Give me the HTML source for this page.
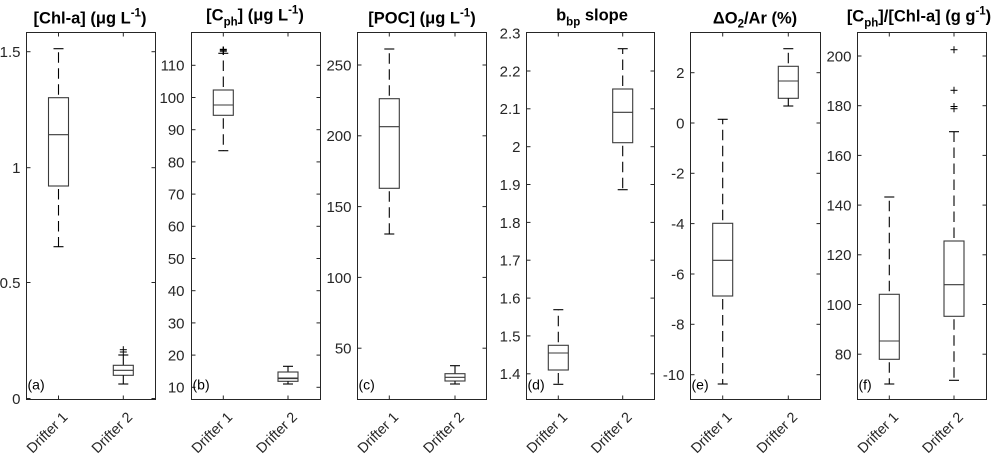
<!DOCTYPE html>
<html><head><meta charset="utf-8"><style>
html,body{margin:0;padding:0;background:#fff;}
svg{display:block;}
text{font-family:"Liberation Sans",Arial,sans-serif;fill:#262626;}
.t{font-size:15px;text-anchor:end;}
.ti{font-size:16.5px;font-weight:bold;text-anchor:middle;fill:#000;}
.xl{font-size:14.3px;text-anchor:end;}
.pl{font-size:14px;fill:#000;}
.ax{fill:none;stroke:#262626;stroke-width:1;}
.tk{stroke:#262626;stroke-width:1;}
.bx{fill:none;stroke:#3a3a3a;stroke-width:1.1;}
.wh{stroke:#000;stroke-width:1.1;stroke-dasharray:10.5 5.5;}
.cp{stroke:#000;stroke-width:1.1;}
.ol{stroke:#000;stroke-width:1;}
</style></head><body>
<svg width="1000" height="455" viewBox="0 0 1000 455" xmlns="http://www.w3.org/2000/svg">
<rect width="1000" height="455" fill="#fff"/>

<!-- ===== Panel a ===== -->
<rect class="ax" x="26.5" y="32.5" width="129" height="367"/>
<g class="tk">
<line x1="26.5" y1="51.7" x2="30.5" y2="51.7"/><line x1="155.5" y1="51.7" x2="151.5" y2="51.7"/>
<line x1="26.5" y1="167.7" x2="30.5" y2="167.7"/><line x1="155.5" y1="167.7" x2="151.5" y2="167.7"/>
<line x1="26.5" y1="282.5" x2="30.5" y2="282.5"/><line x1="155.5" y1="282.5" x2="151.5" y2="282.5"/>
<line x1="26.5" y1="398.5" x2="30.5" y2="398.5"/><line x1="155.5" y1="398.5" x2="151.5" y2="398.5"/>
<line x1="58.5" y1="399.5" x2="58.5" y2="395.5"/><line x1="58.5" y1="32.5" x2="58.5" y2="36.5"/>
<line x1="123.3" y1="399.5" x2="123.3" y2="395.5"/><line x1="123.3" y1="32.5" x2="123.3" y2="36.5"/>
</g>
<text class="t" x="20.5" y="57.1">1.5</text>
<text class="t" x="20.5" y="173.1">1</text>
<text class="t" x="20.5" y="287.9">0.5</text>
<text class="t" x="20.5" y="403.9">0</text>
<text class="ti" x="90" y="23.5">[Chl-a] (μg L<tspan font-size="11.5" dy="-7">-1</tspan><tspan dy="7">)</tspan></text>
<text class="pl" x="27.5" y="389.5">(a)</text>
<text class="xl" transform="translate(68.5,418) rotate(-45)">Drifter 1</text>
<text class="xl" transform="translate(133.3,418) rotate(-45)">Drifter 2</text>
<!-- a1 -->
<line class="wh" x1="58.5" y1="97.7" x2="58.5" y2="48.7" stroke-dashoffset="13"/>
<line class="cp" x1="53.5" y1="48.7" x2="63.5" y2="48.7"/>
<rect class="bx" x="48.5" y="97.7" width="20" height="88.3"/>
<line class="bx" x1="48.5" y1="134.7" x2="68.5" y2="134.7"/>
<line class="wh" x1="58.5" y1="186" x2="58.5" y2="246.7" stroke-dashoffset="13"/>
<line class="cp" x1="53.5" y1="246.7" x2="63.5" y2="246.7"/>
<!-- a2 -->
<line class="wh" x1="123.3" y1="365.3" x2="123.3" y2="355"/>
<line class="cp" x1="118.3" y1="355" x2="128.3" y2="355"/>
<rect class="bx" x="113.3" y="365.3" width="20" height="10"/>
<line class="bx" x1="113.3" y1="370.3" x2="133.3" y2="370.3"/>
<line class="wh" x1="123.3" y1="375.3" x2="123.3" y2="384"/>
<line class="cp" x1="118.3" y1="384" x2="128.3" y2="384"/>
<g class="ol"><line x1="119.8" y1="349.7" x2="126.8" y2="349.7"/><line x1="123.3" y1="346.2" x2="123.3" y2="355.5"/><line x1="119.8" y1="352" x2="126.8" y2="352"/></g>

<!-- ===== Panel b ===== -->
<rect class="ax" x="191.5" y="32.5" width="129" height="367"/>
<g class="tk">
<line x1="191.5" y1="65.3" x2="195.5" y2="65.3"/><line x1="320.5" y1="65.3" x2="316.5" y2="65.3"/>
<line x1="191.5" y1="97.5" x2="195.5" y2="97.5"/><line x1="320.5" y1="97.5" x2="316.5" y2="97.5"/>
<line x1="191.5" y1="129.7" x2="195.5" y2="129.7"/><line x1="320.5" y1="129.7" x2="316.5" y2="129.7"/>
<line x1="191.5" y1="161.9" x2="195.5" y2="161.9"/><line x1="320.5" y1="161.9" x2="316.5" y2="161.9"/>
<line x1="191.5" y1="194.1" x2="195.5" y2="194.1"/><line x1="320.5" y1="194.1" x2="316.5" y2="194.1"/>
<line x1="191.5" y1="226.3" x2="195.5" y2="226.3"/><line x1="320.5" y1="226.3" x2="316.5" y2="226.3"/>
<line x1="191.5" y1="258.5" x2="195.5" y2="258.5"/><line x1="320.5" y1="258.5" x2="316.5" y2="258.5"/>
<line x1="191.5" y1="290.7" x2="195.5" y2="290.7"/><line x1="320.5" y1="290.7" x2="316.5" y2="290.7"/>
<line x1="191.5" y1="322.9" x2="195.5" y2="322.9"/><line x1="320.5" y1="322.9" x2="316.5" y2="322.9"/>
<line x1="191.5" y1="355.1" x2="195.5" y2="355.1"/><line x1="320.5" y1="355.1" x2="316.5" y2="355.1"/>
<line x1="191.5" y1="387.3" x2="195.5" y2="387.3"/><line x1="320.5" y1="387.3" x2="316.5" y2="387.3"/>
<line x1="223.3" y1="399.5" x2="223.3" y2="395.5"/><line x1="223.3" y1="32.5" x2="223.3" y2="36.5"/>
<line x1="288" y1="399.5" x2="288" y2="395.5"/><line x1="288" y1="32.5" x2="288" y2="36.5"/>
</g>
<text class="t" x="184.5" y="70.7">110</text>
<text class="t" x="184.5" y="102.9">100</text>
<text class="t" x="184.5" y="135.1">90</text>
<text class="t" x="184.5" y="167.3">80</text>
<text class="t" x="184.5" y="199.5">70</text>
<text class="t" x="184.5" y="231.7">60</text>
<text class="t" x="184.5" y="263.9">50</text>
<text class="t" x="184.5" y="296.1">40</text>
<text class="t" x="184.5" y="328.3">30</text>
<text class="t" x="184.5" y="360.5">20</text>
<text class="t" x="184.5" y="392.7">10</text>
<text class="ti" x="255" y="20.5">[C<tspan font-size="11.5" dy="5">ph</tspan><tspan dy="-5">] (μg L</tspan><tspan font-size="11.5" dy="-7">-1</tspan><tspan dy="7">)</tspan></text>
<text class="pl" x="192.5" y="389.5">(b)</text>
<text class="xl" transform="translate(233.3,418) rotate(-45)">Drifter 1</text>
<text class="xl" transform="translate(298,418) rotate(-45)">Drifter 2</text>
<!-- b1 -->
<line class="wh" x1="223.3" y1="90" x2="223.3" y2="53.3" stroke-dashoffset="13"/>
<line class="cp" x1="218.3" y1="53.3" x2="228.3" y2="53.3"/>
<rect class="bx" x="213.3" y="90" width="20" height="25.3"/>
<line class="bx" x1="213.3" y1="105" x2="233.3" y2="105"/>
<line class="wh" x1="223.3" y1="115.3" x2="223.3" y2="150.7" stroke-dashoffset="13"/>
<line class="cp" x1="218.3" y1="150.7" x2="228.3" y2="150.7"/>
<g class="ol" style="stroke-width:1.4"><line x1="219.8" y1="49.5" x2="226.8" y2="49.5"/><line x1="219.8" y1="51" x2="226.8" y2="51"/><line x1="223.3" y1="46.5" x2="223.3" y2="54.5"/></g>
<!-- b2 -->
<line class="wh" x1="288" y1="372" x2="288" y2="366.3"/>
<line class="cp" x1="283" y1="366.3" x2="293" y2="366.3"/>
<rect class="bx" x="278" y="372" width="20" height="9.3"/>
<line class="bx" x1="278" y1="378.3" x2="298" y2="378.3" style="stroke-width:1.6"/>
<line class="wh" x1="288" y1="381.3" x2="288" y2="384"/>
<line class="cp" x1="283" y1="384" x2="293" y2="384"/>

<!-- ===== Panel c ===== -->
<rect class="ax" x="357.5" y="32.5" width="129" height="367"/>
<g class="tk">
<line x1="357.5" y1="65" x2="361.5" y2="65"/><line x1="486.5" y1="65" x2="482.5" y2="65"/>
<line x1="357.5" y1="135.8" x2="361.5" y2="135.8"/><line x1="486.5" y1="135.8" x2="482.5" y2="135.8"/>
<line x1="357.5" y1="206.6" x2="361.5" y2="206.6"/><line x1="486.5" y1="206.6" x2="482.5" y2="206.6"/>
<line x1="357.5" y1="277.4" x2="361.5" y2="277.4"/><line x1="486.5" y1="277.4" x2="482.5" y2="277.4"/>
<line x1="357.5" y1="348.2" x2="361.5" y2="348.2"/><line x1="486.5" y1="348.2" x2="482.5" y2="348.2"/>
<line x1="389.3" y1="399.5" x2="389.3" y2="395.5"/><line x1="389.3" y1="32.5" x2="389.3" y2="36.5"/>
<line x1="455" y1="399.5" x2="455" y2="395.5"/><line x1="455" y1="32.5" x2="455" y2="36.5"/>
</g>
<text class="t" x="351.5" y="70.4">250</text>
<text class="t" x="351.5" y="141.2">200</text>
<text class="t" x="351.5" y="212">150</text>
<text class="t" x="351.5" y="282.8">100</text>
<text class="t" x="351.5" y="353.6">50</text>
<text class="ti" x="422" y="23.5">[POC] (μg L<tspan font-size="11.5" dy="-7">-1</tspan><tspan dy="7">)</tspan></text>
<text class="pl" x="358.5" y="389.5">(c)</text>
<text class="xl" transform="translate(399.3,418) rotate(-45)">Drifter 1</text>
<text class="xl" transform="translate(465,418) rotate(-45)">Drifter 2</text>
<!-- c1 -->
<line class="wh" x1="389.3" y1="98.7" x2="389.3" y2="49" stroke-dashoffset="13"/>
<line class="cp" x1="384.3" y1="49" x2="394.3" y2="49"/>
<rect class="bx" x="379.3" y="98.7" width="20" height="89.6"/>
<line class="bx" x1="379.3" y1="126.7" x2="399.3" y2="126.7"/>
<line class="wh" x1="389.3" y1="188.3" x2="389.3" y2="234" stroke-dashoffset="13"/>
<line class="cp" x1="384.3" y1="234" x2="394.3" y2="234"/>
<!-- c2 -->
<line class="wh" x1="455" y1="373.7" x2="455" y2="365.7"/>
<line class="cp" x1="450" y1="365.7" x2="460" y2="365.7"/>
<rect class="bx" x="445" y="373.7" width="20" height="7.3"/>
<line class="bx" x1="445" y1="377.3" x2="465" y2="377.3"/>
<line class="wh" x1="455" y1="381" x2="455" y2="384"/>
<line class="cp" x1="450" y1="384" x2="460" y2="384"/>

<!-- ===== Panel d ===== -->
<rect class="ax" x="526.5" y="32.5" width="128" height="367"/>
<g class="tk">
<line x1="526.5" y1="71" x2="530.5" y2="71"/><line x1="654.5" y1="71" x2="650.5" y2="71"/>
<line x1="526.5" y1="108.8" x2="530.5" y2="108.8"/><line x1="654.5" y1="108.8" x2="650.5" y2="108.8"/>
<line x1="526.5" y1="146.7" x2="530.5" y2="146.7"/><line x1="654.5" y1="146.7" x2="650.5" y2="146.7"/>
<line x1="526.5" y1="184.5" x2="530.5" y2="184.5"/><line x1="654.5" y1="184.5" x2="650.5" y2="184.5"/>
<line x1="526.5" y1="222.4" x2="530.5" y2="222.4"/><line x1="654.5" y1="222.4" x2="650.5" y2="222.4"/>
<line x1="526.5" y1="260.2" x2="530.5" y2="260.2"/><line x1="654.5" y1="260.2" x2="650.5" y2="260.2"/>
<line x1="526.5" y1="298.1" x2="530.5" y2="298.1"/><line x1="654.5" y1="298.1" x2="650.5" y2="298.1"/>
<line x1="526.5" y1="335.9" x2="530.5" y2="335.9"/><line x1="654.5" y1="335.9" x2="650.5" y2="335.9"/>
<line x1="526.5" y1="373.8" x2="530.5" y2="373.8"/><line x1="654.5" y1="373.8" x2="650.5" y2="373.8"/>
<line x1="558.3" y1="399.5" x2="558.3" y2="395.5"/><line x1="558.3" y1="32.5" x2="558.3" y2="36.5"/>
<line x1="622.7" y1="399.5" x2="622.7" y2="395.5"/><line x1="622.7" y1="32.5" x2="622.7" y2="36.5"/>
</g>
<text class="t" x="520.5" y="38.6">2.3</text>
<text class="t" x="520.5" y="76.4">2.2</text>
<text class="t" x="520.5" y="114.2">2.1</text>
<text class="t" x="520.5" y="152.1">2</text>
<text class="t" x="520.5" y="189.9">1.9</text>
<text class="t" x="520.5" y="227.8">1.8</text>
<text class="t" x="520.5" y="265.6">1.7</text>
<text class="t" x="520.5" y="303.5">1.6</text>
<text class="t" x="520.5" y="341.3">1.5</text>
<text class="t" x="520.5" y="379.2">1.4</text>
<text class="ti" x="592" y="20.5">b<tspan font-size="11.5" dy="5">bp</tspan><tspan dy="-5"> slope</tspan></text>
<text class="pl" x="527.5" y="389.5">(d)</text>
<text class="xl" transform="translate(568.3,418) rotate(-45)">Drifter 1</text>
<text class="xl" transform="translate(632.7,418) rotate(-45)">Drifter 2</text>
<!-- d1 -->
<line class="wh" x1="558.3" y1="345.3" x2="558.3" y2="309.7" stroke-dashoffset="13"/>
<line class="cp" x1="553.3" y1="309.7" x2="563.3" y2="309.7"/>
<rect class="bx" x="548.3" y="345.3" width="20" height="24.7"/>
<line class="bx" x1="548.3" y1="353" x2="568.3" y2="353"/>
<line class="wh" x1="558.3" y1="370" x2="558.3" y2="384.3" stroke-dashoffset="13"/>
<line class="cp" x1="553.3" y1="384.3" x2="563.3" y2="384.3"/>
<!-- d2 -->
<line class="wh" x1="622.7" y1="89" x2="622.7" y2="48.7" stroke-dashoffset="13"/>
<line class="cp" x1="617.7" y1="48.7" x2="627.7" y2="48.7"/>
<rect class="bx" x="612.7" y="89" width="20" height="53.7"/>
<line class="bx" x1="612.7" y1="112.3" x2="632.7" y2="112.3"/>
<line class="wh" x1="622.7" y1="142.7" x2="622.7" y2="189.7" stroke-dashoffset="13"/>
<line class="cp" x1="617.7" y1="189.7" x2="627.7" y2="189.7"/>

<!-- ===== Panel e ===== -->
<rect class="ax" x="690.5" y="32.5" width="130" height="367"/>
<g class="tk">
<line x1="690.5" y1="72.7" x2="694.5" y2="72.7"/><line x1="820.5" y1="72.7" x2="816.5" y2="72.7"/>
<line x1="690.5" y1="123" x2="694.5" y2="123"/><line x1="820.5" y1="123" x2="816.5" y2="123"/>
<line x1="690.5" y1="173.3" x2="694.5" y2="173.3"/><line x1="820.5" y1="173.3" x2="816.5" y2="173.3"/>
<line x1="690.5" y1="223.6" x2="694.5" y2="223.6"/><line x1="820.5" y1="223.6" x2="816.5" y2="223.6"/>
<line x1="690.5" y1="274" x2="694.5" y2="274"/><line x1="820.5" y1="274" x2="816.5" y2="274"/>
<line x1="690.5" y1="324.3" x2="694.5" y2="324.3"/><line x1="820.5" y1="324.3" x2="816.5" y2="324.3"/>
<line x1="690.5" y1="374.7" x2="694.5" y2="374.7"/><line x1="820.5" y1="374.7" x2="816.5" y2="374.7"/>
<line x1="722.7" y1="399.5" x2="722.7" y2="395.5"/><line x1="722.7" y1="32.5" x2="722.7" y2="36.5"/>
<line x1="788.3" y1="399.5" x2="788.3" y2="395.5"/><line x1="788.3" y1="32.5" x2="788.3" y2="36.5"/>
</g>
<text class="t" x="684.5" y="78.1">2</text>
<text class="t" x="684.5" y="128.4">0</text>
<text class="t" x="684.5" y="178.7">-2</text>
<text class="t" x="684.5" y="229">-4</text>
<text class="t" x="684.5" y="279.4">-6</text>
<text class="t" x="684.5" y="329.7">-8</text>
<text class="t" x="684.5" y="380.1">-10</text>
<text class="ti" x="755" y="23.5">ΔO<tspan font-size="11.5" dy="4">2</tspan><tspan dy="-4">/Ar (%)</tspan></text>
<text class="pl" x="691.5" y="389.5">(e)</text>
<text class="xl" transform="translate(732.7,418) rotate(-45)">Drifter 1</text>
<text class="xl" transform="translate(798.3,418) rotate(-45)">Drifter 2</text>
<!-- e1 -->
<line class="wh" x1="722.7" y1="223.3" x2="722.7" y2="119.3" stroke-dashoffset="13"/>
<line class="cp" x1="717.7" y1="119.3" x2="727.7" y2="119.3"/>
<rect class="bx" x="712.7" y="223.3" width="20" height="72.7"/>
<line class="bx" x1="712.7" y1="260.3" x2="732.7" y2="260.3"/>
<line class="wh" x1="722.7" y1="296" x2="722.7" y2="384" stroke-dashoffset="13"/>
<line class="cp" x1="717.7" y1="384" x2="727.7" y2="384"/>
<!-- e2 -->
<line class="wh" x1="788.3" y1="66.3" x2="788.3" y2="48.7" stroke-dashoffset="13"/>
<line class="cp" x1="783.3" y1="48.7" x2="793.3" y2="48.7"/>
<rect class="bx" x="778.3" y="66.3" width="20" height="32"/>
<line class="bx" x1="778.3" y1="81" x2="798.3" y2="81"/>
<line class="wh" x1="788.3" y1="98.3" x2="788.3" y2="106"/>
<line class="cp" x1="783.3" y1="106" x2="793.3" y2="106"/>

<!-- ===== Panel f ===== -->
<rect class="ax" x="857.5" y="32.5" width="129" height="367"/>
<g class="tk">
<line x1="857.5" y1="56" x2="861.5" y2="56"/><line x1="986.5" y1="56" x2="982.5" y2="56"/>
<line x1="857.5" y1="105.7" x2="861.5" y2="105.7"/><line x1="986.5" y1="105.7" x2="982.5" y2="105.7"/>
<line x1="857.5" y1="155.4" x2="861.5" y2="155.4"/><line x1="986.5" y1="155.4" x2="982.5" y2="155.4"/>
<line x1="857.5" y1="205.1" x2="861.5" y2="205.1"/><line x1="986.5" y1="205.1" x2="982.5" y2="205.1"/>
<line x1="857.5" y1="254.8" x2="861.5" y2="254.8"/><line x1="986.5" y1="254.8" x2="982.5" y2="254.8"/>
<line x1="857.5" y1="304.5" x2="861.5" y2="304.5"/><line x1="986.5" y1="304.5" x2="982.5" y2="304.5"/>
<line x1="857.5" y1="354.2" x2="861.5" y2="354.2"/><line x1="986.5" y1="354.2" x2="982.5" y2="354.2"/>
<line x1="889.3" y1="399.5" x2="889.3" y2="395.5"/><line x1="889.3" y1="32.5" x2="889.3" y2="36.5"/>
<line x1="954" y1="399.5" x2="954" y2="395.5"/><line x1="954" y1="32.5" x2="954" y2="36.5"/>
</g>
<text class="t" x="851.5" y="61.4">200</text>
<text class="t" x="851.5" y="111.1">180</text>
<text class="t" x="851.5" y="160.8">160</text>
<text class="t" x="851.5" y="210.5">140</text>
<text class="t" x="851.5" y="260.2">120</text>
<text class="t" x="851.5" y="309.9">100</text>
<text class="t" x="851.5" y="359.6">80</text>
<text class="ti" x="919" y="21.5">[C<tspan font-size="11.5" dy="5">ph</tspan><tspan dy="-5">]/[Chl-a] (g g</tspan><tspan font-size="11.5" dy="-7">-1</tspan><tspan dy="7">)</tspan></text>
<text class="pl" x="858.5" y="389.5">(f)</text>
<text class="xl" transform="translate(899.3,418) rotate(-45)">Drifter 1</text>
<text class="xl" transform="translate(964,418) rotate(-45)">Drifter 2</text>
<!-- f1 -->
<line class="wh" x1="889.3" y1="294.3" x2="889.3" y2="197" stroke-dashoffset="13"/>
<line class="cp" x1="884.3" y1="197" x2="894.3" y2="197"/>
<rect class="bx" x="879.3" y="294.3" width="20" height="65"/>
<line class="bx" x1="879.3" y1="341" x2="899.3" y2="341"/>
<line class="wh" x1="889.3" y1="359.3" x2="889.3" y2="384" stroke-dashoffset="13"/>
<line class="cp" x1="884.3" y1="384" x2="894.3" y2="384"/>
<!-- f2 -->
<line class="wh" x1="954" y1="241" x2="954" y2="131.7" stroke-dashoffset="13"/>
<line class="cp" x1="949" y1="131.7" x2="959" y2="131.7"/>
<rect class="bx" x="944" y="241" width="20" height="75.3"/>
<line class="bx" x1="944" y1="284.7" x2="964" y2="284.7"/>
<line class="wh" x1="954" y1="316.3" x2="954" y2="380.3" stroke-dashoffset="13"/>
<line class="cp" x1="949" y1="380.3" x2="959" y2="380.3"/>
<g class="ol">
<line x1="950.5" y1="49.7" x2="957.5" y2="49.7"/><line x1="954" y1="46.2" x2="954" y2="53.2"/>
<line x1="950.5" y1="90.3" x2="957.5" y2="90.3"/><line x1="954" y1="86.8" x2="954" y2="93.8"/>
<line x1="950.5" y1="106.5" x2="957.5" y2="106.5"/><line x1="950.5" y1="108.7" x2="957.5" y2="108.7"/><line x1="954" y1="103" x2="954" y2="112.2"/>
</g>
</svg>
</body></html>
